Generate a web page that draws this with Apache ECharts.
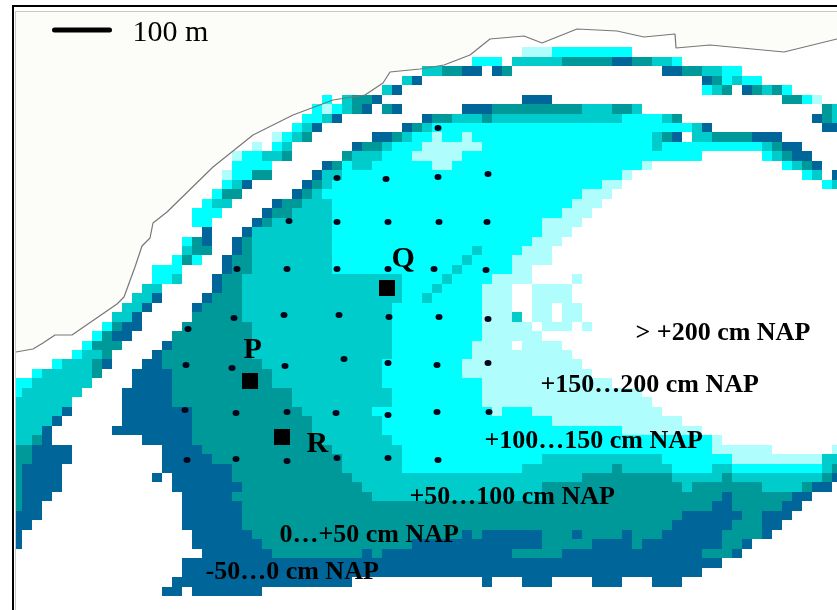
<!DOCTYPE html>
<html><head><meta charset="utf-8">
<style>html,body{margin:0;padding:0;background:#fff}#c{width:837px;height:610px}</style>
<script src="https://cdn.jsdelivr.net/npm/echarts@6/dist/echarts.min.js"></script>
</head><body><div id="c"></div>
<script>
// Elevation classes: a=+150..200, b=+100..150, c=+50..100, d=0..+50, e=-50..0, .=above +200 (white)
const classColors = {a:'#b0fdfd', b:'#00ffff', c:'#00cccc', d:'#009999', e:'#006699'};
// Each row lists "<first column><class>" runs; a run lasts until the next one starts
const elevationRows = [
'51a 54b 62.',
'46b 49. 50c 55d 60e 62d 64c 66b 67.',
'41c 43d 45e 47. 48e 49d 50. 65e 67d 69c 71b 73.',
'39c 40e 41. 69e 70d 71b 72c 73b 75.',
'37c 38e 39. 69b 70c 71d 72. 73e 74d 75c 76d 77b 78.',
'31b 32. 33c 34d 36e 37. 51e 54. 77d 79b 80a 81.',
'30b 31a 32b 33c 34d 35e 36. 37d 38e 39. 45e 48d 57c 60d 62c 63. 81d 82c',
'29b 31c 32e 33. 41e 42d 44c 47d 48c 61b 65c 66d 67. 80e 81d 82c',
'28b 29c 30e 31. 39e 40d 41c 42b 68c 69e 70. 81e',
'26a 27b 28c 29d 30. 36e 38d 39c 40b 42a 43b 45a 46b 64c 65d 66e 67. 68c 70d 74e 77.',
'24a 25. 26b 27c 28. 34e 35d 37c 38b 41a 47b 64c 65b 75c 76d 77e 79.',
'22a 23b 25c 27d 28. 33d 34c 37b 40a 45b 69. 75b 76c 77d 78e 80.',
'22b 26. 31e 32d 33b 34c 36b 42a 44b 63a 64. 77b 78c 79d 80e 81.',
'21a 22b 24d 26. 30e 31c 33b 61a 62. 79b 80c 81. 82e',
'21b 22c 23e 24. 29e 30d 31c 32b 59a 61. 81b 82c',
'20b 21d 23. 28e 29d 30c 31b 57a 60.',
'19b 20c 22. 26e 27d 29c 32b 56a 59.',
'18b 21. 25e 26d 28c 32b 55a 58.',
'18b 20. 24e 25d 26c 32b 53a 57.',
'19e 20. 23e 24c 32b 53a 56.',
'17b 18d 19e 20. 22e 23d 24c 32b 52a 55.',
'17c 18d 20. 22e 23d 24c 32b 46c 47b 51a 54.',
'16b 17d 18b 19. 21e 22d 24c 32b 45c 46b 50a 54.',
'14b 17. 21e 22d 24c 32b 44c 45b 50a 52.',
'14b 16c 17. 20e 21d 23c 39b 43c 44b 48a 52. 56a 57.',
'13c 15. 20e 21d 23c 39b 42c 43b 47a 50. 52a 56.',
'12c 14e 15. 19e 20d 23c 39b 41c 42b 47a 50. 52a 56.',
'11c 13e 14. 18e 19d 23c 38b 47a 50. 52a 54. 55a 57.',
'10c 12e 13. 18d 23c 38b 47a 50c 51. 52a 54. 55a 57.',
'9b 10d 11e 13. 17d 24c 38b 47a 52. 53a 56. 57a 58.',
'8b 9d 10e 12. 16d 24c 38b 47a 53.',
'7b 8d 11. 15e 16d 24c 38b 46a 50. 51a 55.',
'6b 7c 9d 10. 14e 15d 24c 38b 46a 56.',
'4b 5c 8d 9e 10. 13e 15d 25c 37b 45a 57.',
'2b 3c 8d 9. 12e 16d 26c 37b 45a 58.',
'0b 2c 8. 12e 16d 26c 37b 47a 60.',
'0b 1c 7. 11e 16d 28c 38b 47a 63.',
'0c 6. 11e 16d 28c 38b 47a 64.',
'0c 5e 6. 11e 18d 29c 36b 47b 48a 49b 52a 65.',
'0c 4e 5. 11e 18d 30c 37b 54a 67.',
'0c 3e 4. 10e 18d 30c 37b 61a 69.',
'0c 2d 3e 4. 13e 18d 31c 38b 70a 71.',
'0d 2e 6. 15e 19d 32c 39b 70a 76. 82a',
'0d 2e 6. 15e 20d 33c 39b 53c 65b 72a 81c',
'0d 1e 5. 15e 22d 33c 39b 51c 60d 61c 66b 70c 72b 81c 82d',
'0d 1e 5. 14e 15. 16e 22d 34c 57d 66c 71d 72c 81d 82e',
'0d 1e 5. 16e 23d 35c 53d 67c 68d 75c 79d 80e 82.',
'0d 1e 4. 17e 22d 36c 53d 71e 72d 78e 80.',
'0d 1e 3. 17e 23d 70e 72d 77e 79.',
'0e 3. 17e 23d 67e 73d 75e 78.',
'0e 2. 17e 23d 66e 72d 75e 77.',
'0e 1. 18e 24d 45e 46d 47e 53d 56e 57d 61e 62d 65e 71d 75e 76.',
'0e 1. 18e 25d 40e 53d 58e 62d 63e 71d 73e 74.',
'19e 26d 35e 36d 37e 50d 55e 69d 72e 73.',
'17e 71.',
'17e 69.',
'16e 34. 47e 48. 51e 54. 58e 61. 64e 67.',
'15e 17. 18e 25.'
];
// Map scale of the raster
const CELL_X0 = 12.4, CELL_W = 10, CELL_Y0 = 47.3, CELL_H = 9.46, COLS = 83;
// Shoreline, in map units
const coastLine = [[16,352],[33,349],[43,343],[55,335],[72,335],[117,304],[124,297],[135,267],[142,246],[150,238],[153,223],[167,212],[213,167],[238,147],[253,135],[293,115],[333,100],[365,95],[383,83],[390,72],[420,69],[444,65],[470,55],[490,39],[524,36],[542,43],[577,29],[617,31],[644,37],[675,34],[676,48],[710,45],[784,52],[837,39]];
const landCorners = [[837,12],[16,12]];
const scaleBar = [[54.5,30],[109.5,30]];
const samplePoints = [[438,128],[337,178],[386,179],[438,177],[488,174],[289,221],[337,222],[388,222],[439,222],[487,222],[237,269],[287,269],[337,269],[388,269],[434,269],[486,270],[234,318],[284,315],[339,315],[389,317],[439,317],[488,319],[188,329],[186,365],[232,368],[285,366],[344,359],[388,363],[437,365],[488,363],[185,410],[236,413],[287,412],[336,413],[388,415],[437,412],[489,412],[187,460],[236,459],[287,461],[337,458],[388,458],[438,460]];
const stations = [[250,381],[387,288],[282,437]];
const stationLabels = [['P',243,350],['Q',391,259],['R',306,444]];
const zoneLabels = [['> +200 cm NAP',635,333],['+150…200 cm NAP',540,385],['+100…150 cm NAP',484,441],['+50…100 cm NAP',409,497],['0…+50 cm NAP',279,535],['-50…0 cm NAP',205,572]];
const scaleLabel = [['100 m',132,33]];

const runs = [];
elevationRows.forEach((row, k) => {
  const toks = row.split(' ').map(t => ({c: parseInt(t), v: t.slice(-1)}));
  toks.forEach((t, i) => {
    if (t.v !== '.') runs.push([t.c, i + 1 < toks.length ? toks[i + 1].c : COLS, k, t.v]);
  });
});
const textSeries = (name, data, font, weight, z) => ({
  type: 'scatter', name, data: data.map(d => ({value: [d[1], d[2]], name: d[0]})),
  symbolSize: 1, itemStyle: {color: 'transparent', opacity: 1}, silent: true, z,
  label: {show: true, position: 'right', distance: 0, formatter: p => p.name, opacity: 1,
    fontFamily: 'Liberation Serif', fontSize: font, fontWeight: weight, color: '#000',
    textBorderColor: 'transparent', textBorderWidth: 0}
});
const chart = echarts.init(document.getElementById('c'), null, {renderer: 'canvas'});
chart.setOption({
  animation: false, backgroundColor: '#fff',
  grid: {left: 16, right: 0, top: 12, bottom: 0},
  xAxis: {type: 'value', min: 16, max: 837, show: false},
  yAxis: {type: 'value', min: 12, max: 610, inverse: true, show: false},
  series: [
    {type: 'custom', name: 'land', z: 1, silent: true, data: [0], renderItem: (p, api) => ({
      type: 'polygon', shape: {points: coastLine.concat(landCorners).map(q => api.coord(q))},
      style: {fill: '#fcfcf8'}})},
    {type: 'custom', name: 'elevation', z: 2, silent: true, data: runs.map(r => [r[0], r[1], r[2], r[3]]),
      renderItem: (p, api) => {
        const a = api.coord([CELL_X0 + api.value(0) * CELL_W, CELL_Y0 + api.value(2) * CELL_H]);
        const b = api.coord([CELL_X0 + api.value(1) * CELL_W, CELL_Y0 + (api.value(2) + 1) * CELL_H]);
        const x0 = Math.max(Math.round(a[0]), p.coordSys.x), x1 = Math.min(Math.round(b[0]), p.coordSys.x + p.coordSys.width);
        const y0 = Math.round(a[1]), y1 = Math.round(b[1]);
        return {type: 'rect', shape: {x: x0, y: y0, width: x1 - x0, height: y1 - y0},
          style: {fill: classColors[runs[p.dataIndex][3]]}};
      }},
    {type: 'line', name: 'coast', z: 3, silent: true, data: coastLine, symbol: 'none', lineStyle: {color: '#777', width: 1.2}},
    {type: 'line', name: 'scale', z: 5, silent: true, data: scaleBar, symbol: 'none', lineStyle: {color: '#000', width: 5, cap: 'round'}},
    {type: 'scatter', name: 'samples', z: 6, silent: true, data: samplePoints, symbol: 'circle', symbolSize: [7, 6], itemStyle: {color: '#06061a', opacity: 1}},
    {type: 'scatter', name: 'stations', z: 6, silent: true, data: stations, symbol: 'rect', symbolSize: 16, itemStyle: {color: '#000', opacity: 1}},
    textSeries('stationLabels', stationLabels, 30, 'bold', 7),
    textSeries('zoneLabels', zoneLabels, 26, 'bold', 7),
    textSeries('scaleLabel', scaleLabel, 30, 'normal', 7)
  ],
  graphic: [
    {type: 'rect', z: 100, shape: {x: 15, y: 11, width: 822, height: 1}, style: {fill: '#c8c8c4'}},
    {type: 'rect', z: 100, shape: {x: 15, y: 11, width: 1, height: 599}, style: {fill: '#c8c8c4'}},
    {type: 'rect', z: 100, shape: {x: 12, y: 5, width: 825, height: 2}, style: {fill: '#000'}},
    {type: 'rect', z: 100, shape: {x: 12, y: 5, width: 2, height: 605}, style: {fill: '#000'}}
  ]
});
</script></body></html>
